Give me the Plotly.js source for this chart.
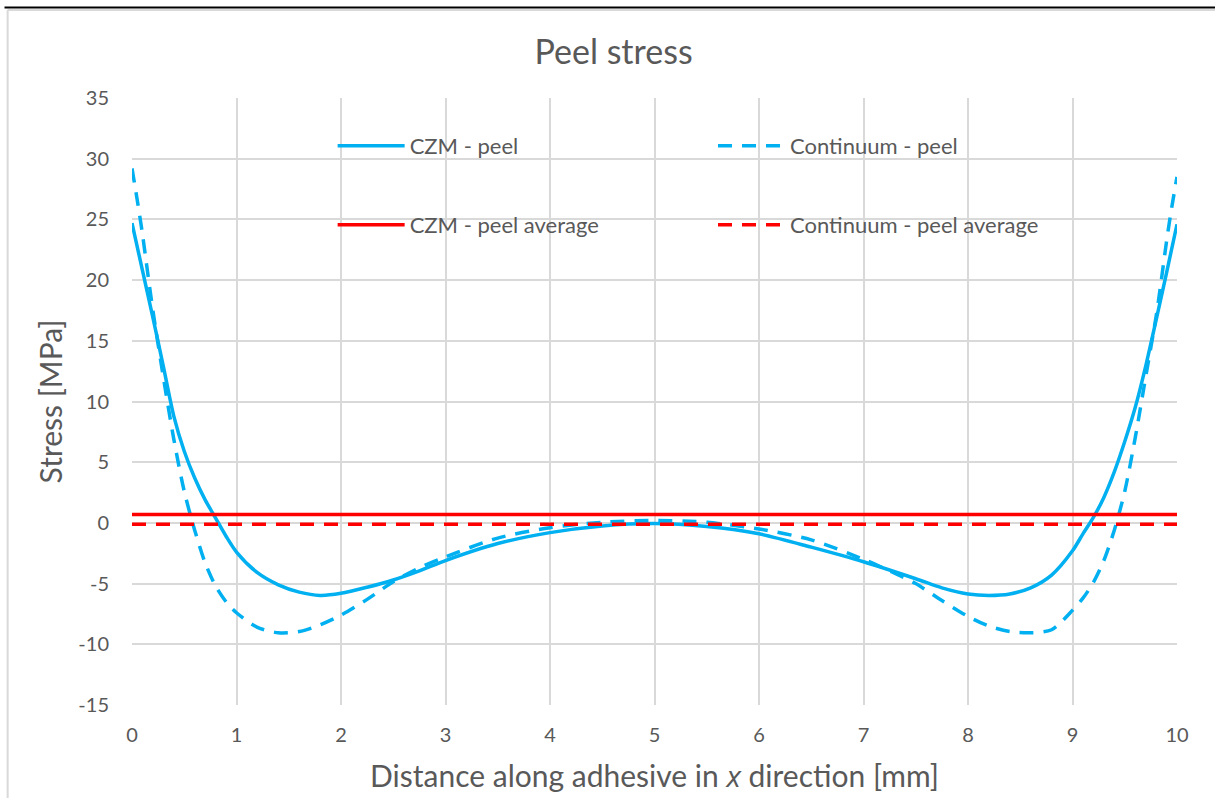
<!DOCTYPE html>
<html>
<head>
<meta charset="utf-8">
<script src="https://cdn.plot.ly/plotly-3.0.1.min.js"></script>
<style>
html,body{margin:0;padding:0;background:#fff;}
#chart{width:1215px;height:798px;}
</style>
</head>
<body>
<div id="chart"></div>
<script>
// Distance along adhesive [mm]
const xCzm = [0, 0.1, 0.2, 0.3, 0.4, 0.5, 0.6, 0.7, 0.8, 0.9, 1.0, 1.2, 1.4, 1.6, 1.8, 2.0, 2.25, 2.5, 2.75, 3.0, 3.5, 4.0, 4.5, 5.0, 5.5, 6.0, 6.5, 7.0, 7.5, 7.75, 8.0, 8.2, 8.4, 8.6, 8.8, 9.0, 9.1, 9.2, 9.3, 9.4, 9.5, 9.6, 9.7, 9.8, 9.9, 10.0];
const czmPeel = [24.7, 20.8, 16.9, 12.9, 8.8, 5.9, 3.7, 1.9, 0.4, -1.1, -2.4, -4.1, -5.1, -5.7, -5.97, -5.8, -5.3, -4.7, -3.95, -3.1, -1.7, -0.8, -0.25, -0.05, -0.3, -0.9, -2.0, -3.2, -4.6, -5.35, -5.85, -5.97, -5.85, -5.35, -4.3, -2.3, -0.9, 0.45, 2.1, 4.2, 6.7, 9.5, 12.9, 16.7, 20.6, 24.6];

const xCont = [0, 0.05, 0.1, 0.15, 0.2, 0.3, 0.4, 0.5, 0.6, 0.7, 0.8, 0.9, 1.0, 1.2, 1.4, 1.6, 1.8, 2.0, 2.25, 2.5, 2.75, 3.0, 3.5, 4.0, 4.5, 5.0, 5.5, 6.0, 6.5, 7.0, 7.25, 7.5, 7.75, 8.0, 8.2, 8.4, 8.6, 8.8, 9.0, 9.1, 9.2, 9.3, 9.4, 9.5, 9.6, 9.7, 9.8, 9.85, 9.9, 9.95, 10.0];
const contPeel = [29.2, 26.6, 23.8, 20.6, 17.5, 12.0, 6.9, 2.6, -0.6, -3.3, -5.2, -6.5, -7.4, -8.6, -9.05, -8.95, -8.4, -7.6, -6.3, -4.85, -3.7, -2.8, -1.25, -0.4, 0.05, 0.2, 0.05, -0.5, -1.4, -3.0, -3.95, -5.0, -6.4, -7.7, -8.5, -8.95, -9.05, -8.8, -7.2, -6.2, -4.9, -3.1, -0.6, 2.6, 7.0, 12.0, 17.0, 20.0, 23.2, 26.0, 28.5];

const xAvg = [0, 10];
const czmAvg = [0.7, 0.7];
const contAvg = [-0.12, -0.12];

const xTicks = [0, 1, 2, 3, 4, 5, 6, 7, 8, 9, 10];
const yTicks = [-15, -10, -5, 0, 5, 10, 15, 20, 25, 30, 35];

const names = ['CZM - peel', 'Continuum - peel', 'CZM - peel average', 'Continuum - peel average'];

const BLUE = '#00B0F0', RED = '#FF0000';
const FONT = 'Lato, "Open Sans", sans-serif';
const DASH = '14px,10px';

const traces = [
  {x: xCzm, y: czmPeel, name: names[0], mode: 'lines', line: {color: BLUE, width: 3.5, shape: 'spline', smoothing: 0.8}, legend: 'legend'},
  {x: xCont, y: contPeel, name: names[1], mode: 'lines', line: {color: BLUE, width: 3.5, dash: DASH, shape: 'spline', smoothing: 0.8}, legend: 'legend2'},
  {x: xAvg, y: czmAvg, name: names[2], mode: 'lines', line: {color: RED, width: 3.5}, legend: 'legend3'},
  {x: xAvg, y: contAvg, name: names[3], mode: 'lines', line: {color: RED, width: 3.5, dash: DASH}, legend: 'legend4'}
];

function leg(x, y) {
  return {
    orientation: 'v', xanchor: 'left', yanchor: 'middle', x: x, y: y,
    itemwidth: 67, borderwidth: 0,
    bgcolor: 'rgba(0,0,0,0)', font: {family: FONT, size: 22, color: '#595959'}
  };
}

const layout = {
  width: 1215, height: 798,
  paper_bgcolor: '#ffffff', plot_bgcolor: '#ffffff',
  margin: {l: 132, r: 38, t: 98, b: 93},
  font: {family: FONT, color: '#595959'},
  title: {text: 'Peel stress', x: 0.505, xref: 'container', xanchor: 'center', y: 0.935, yanchor: 'middle', font: {family: FONT, size: 34, color: '#595959'}},
  xaxis: {
    range: [0, 10], tickvals: xTicks, ticktext: xTicks.map(String), showgrid: true, gridcolor: '#D9D9D9', gridwidth: 2,
    zeroline: false, showline: false, ticks: '', ticklabelstandoff: 16, tickfont: {family: FONT, size: 20, color: '#595959'},
    title: {text: 'Distance along adhesive in <i style="font-family:\'Open Sans\', \'DejaVu Sans\';font-style:italic">x</i> direction [mm]', font: {family: FONT, size: 30, color: '#595959'}, standoff: 20},
    fixedrange: true
  },
  yaxis: {
    range: [-15, 35], tickvals: yTicks, ticktext: yTicks.map(String), showgrid: true, gridcolor: '#D9D9D9', gridwidth: 2,
    zeroline: false, showline: false, ticks: '', ticklabelstandoff: 22, tickfont: {family: FONT, size: 20, color: '#595959'},
    title: {text: 'Stress [MPa]', font: {family: FONT, size: 30, color: '#595959'}, standoff: 6},
    fixedrange: true
  },
  showlegend: true,
  legend: leg(0.192, 0.921),
  legend2: leg(0.556, 0.921),
  legend3: leg(0.192, 0.791),
  legend4: leg(0.556, 0.791),
  shapes: [
    {type: 'line', xref: 'paper', yref: 'paper', x0: -0.119, x1: 1.04, y0: 1.145, y1: 1.145, line: {color: '#D9D9D9', width: 2}},
    {type: 'line', xref: 'paper', yref: 'paper', x0: -0.119, x1: -0.119, y0: 1.145, y1: -0.16, line: {color: '#D9D9D9', width: 2}},
    {type: 'line', xref: 'paper', yref: 'paper', x0: -0.122, x1: 1.04, y0: 1.149, y1: 1.149, line: {color: '#000000', width: 2}}
  ]
};

Plotly.newPlot('chart', traces, layout, {displayModeBar: false, staticPlot: true});
</script>
</body>
</html>
